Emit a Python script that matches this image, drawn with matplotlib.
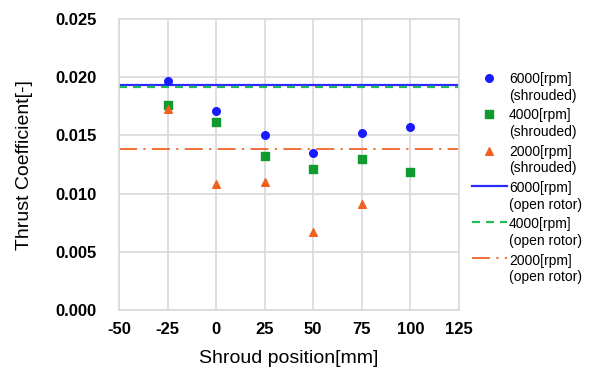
import matplotlib
matplotlib.use("Agg")
import matplotlib.pyplot as plt

positions = [-25, 0, 25, 50, 75, 100]
ct_6000_shrouded = [0.0197, 0.0171, 0.0150, 0.0135, 0.0152, 0.0157]
ct_4000_shrouded = [0.0176, 0.0162, 0.0132, 0.0121, 0.0130, 0.0119]
positions_2000 = [-25, 0, 25, 50, 75]
ct_2000_shrouded = [0.0173, 0.0108, 0.0110, 0.0067, 0.0091]
ct_6000_open = 0.0193
ct_4000_open = 0.01915
ct_2000_open = 0.0138

xticks = [-50, -25, 0, 25, 50, 75, 100, 125]
yticks = [0.000, 0.005, 0.010, 0.015, 0.020, 0.025]

plt.rcParams['font.family'] = ['Liberation Sans', 'DejaVu Sans']
plt.rcParams['axes.unicode_minus'] = False

fig = plt.figure(figsize=(5.9, 3.69), dpi=100)
ax = fig.add_axes([0.2017, 0.160, 0.576, 0.788])

ax.scatter(positions, ct_6000_shrouded, marker='o', s=30, color='#1a1aff', zorder=3,
           label='6000[rpm]\n(shrouded)')
ax.scatter(positions, ct_4000_shrouded, marker='s', s=30, color='#119a2e', zorder=3,
           label='4000[rpm]\n(shrouded)')
ax.scatter(positions_2000, ct_2000_shrouded, marker='^', s=30, color='#f0601e', zorder=3,
           label='2000[rpm]\n(shrouded)')
ax.axhline(ct_6000_open, color='#2a2aff', lw=1.6, ls='-', label='6000[rpm]\n(open rotor)', zorder=2)
ax.axhline(ct_4000_open, color='#22bb55', lw=1.6, ls=(0, (3.6, 2.7)), label='4000[rpm]\n(open rotor)', zorder=2)
ax.axhline(ct_2000_open, color='#f0652a', lw=1.3, ls=(0, (10, 3.5, 1.2, 3.5)), label='2000[rpm]\n(open rotor)', zorder=2)

ax.set_xlim(-50, 125)
ax.set_ylim(0, 0.025)
ax.set_xticks(xticks)
ax.set_yticks(yticks)
ax.set_yticklabels([f"{v:.3f}" for v in yticks])
ax.tick_params(length=0, labelsize=12)
ax.tick_params(axis='x', pad=9)
ax.tick_params(axis='y', pad=16)
for lbl in ax.get_xticklabels() + ax.get_yticklabels():
    lbl.set_fontweight('bold')
ax.grid(True, color='#d9d9d9', lw=1.2)
ax.set_axisbelow(True)
for sp in ax.spines.values():
    sp.set_color('#d9d9d9')
    sp.set_linewidth(1.2)

ax.set_xlabel('Shroud position[mm]', fontsize=14, labelpad=9)
ax.set_ylabel('Thrust Coefficient[-]', fontsize=14, labelpad=16)

leg = ax.legend(loc='upper left', bbox_to_anchor=(472 / 590, 1 - 72 / 369),
                bbox_transform=fig.transFigure, frameon=False, fontsize=10,
                handlelength=2.5, handletextpad=0.15, labelspacing=0.4,
                borderaxespad=0, borderpad=0)
for t in leg.get_texts():
    t.set_linespacing(1.25)
for col in leg._legend_handle_box.get_children():
    for item in col.get_children():
        item.align = 'top'

fig.savefig('out.png', dpi=100)
